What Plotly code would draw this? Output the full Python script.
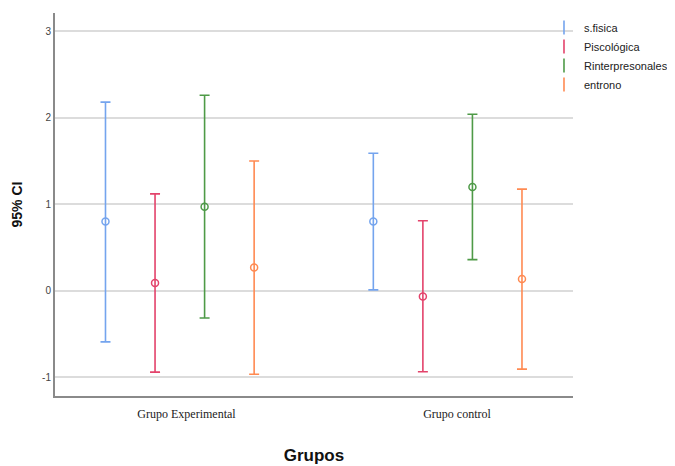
import plotly.graph_objects as go

groups = ["Grupo Experimental", "Grupo control"]
series = ["s.fisica", "Piscológica", "Rinterpresonales", "entrono"]
colors = ["#74A4EE", "#E3436B", "#4E9A47", "#FF8A52"]

means = {
    "s.fisica": [0.80, 0.80],
    "Piscológica": [0.09, -0.065],
    "Rinterpresonales": [0.97, 1.20],
    "entrono": [0.27, 0.135],
}
upper = {
    "s.fisica": [2.18, 1.59],
    "Piscológica": [1.12, 0.81],
    "Rinterpresonales": [2.26, 2.04],
    "entrono": [1.50, 1.175],
}
lower = {
    "s.fisica": [-0.59, 0.01],
    "Piscológica": [-0.94, -0.935],
    "Rinterpresonales": [-0.315, 0.36],
    "entrono": [-0.965, -0.905],
}

ytick_vals = [-1, 0, 1, 2, 3]
spacing = 0.185

fig = go.Figure()
for i, s in enumerate(series):
    off = (i - 1.5) * spacing
    xs = [g + off for g in range(len(groups))]
    m = means[s]
    fig.add_trace(go.Scatter(
        x=xs, y=m, mode="markers", name=s, showlegend=False,
        marker=dict(symbol="circle-open", size=7, color=colors[i], line=dict(width=1.5, color=colors[i])),
        error_y=dict(type="data", symmetric=False,
                     array=[u - v for u, v in zip(upper[s], m)],
                     arrayminus=[v - l for v, l in zip(m, lower[s])],
                     color=colors[i], thickness=1.6, width=5),
    ))
    # legend entry with an "I"-like symbol
    fig.add_trace(go.Scatter(
        x=[None], y=[None], mode="markers", name=s, showlegend=True,
        marker=dict(symbol="line-ns-open", size=10, color=colors[i], line=dict(width=1.6, color=colors[i])),
    ))

fig.update_layout(
    width=675, height=466,
    margin=dict(l=47, r=110, t=5, b=78),
    paper_bgcolor="white", plot_bgcolor="white",
    showlegend=True,
    legend=dict(x=0.944, y=1.0, xanchor="left", yanchor="top",
                font=dict(family="Arial", size=11, color="#222"),
                itemwidth=30, tracegroupgap=0, bgcolor="rgba(0,0,0,0)", borderwidth=0),
    xaxis=dict(range=[-0.466, 1.468], tickvals=[0.025, 1.035], ticktext=groups, automargin=False,
               showgrid=False, zeroline=False, showline=True, linecolor="#8a8a8a", linewidth=2,
               ticks="", ticklabelstandoff=6,
               tickfont=dict(family="Liberation Serif, Times New Roman", size=12, color="#222"),
               title=dict(text="<b>Grupos</b>", font=dict(family="Arial", size=17, color="#111"), standoff=29)),
    yaxis=dict(range=[-1.216, 3.21], tickvals=ytick_vals, ticktext=[str(v) for v in ytick_vals], automargin=False,
               showgrid=True, gridcolor="#dcdcdc", gridwidth=2, zeroline=False,
               showline=True, linecolor="#8a8a8a", linewidth=2, ticks="",
               tickfont=dict(family="Arial", size=10, color="#444"),
               title=dict(text="<b>95% CI</b>", font=dict(family="Arial", size=14, color="#111"), standoff=16)),
)

fig.write_html("out.html")
